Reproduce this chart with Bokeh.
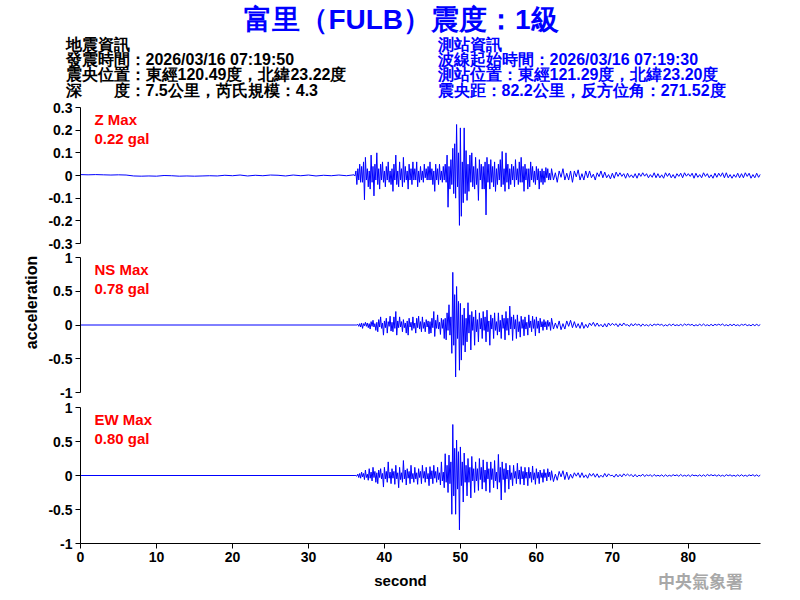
import numpy as np
from bokeh.plotting import figure
from bokeh.models import Range1d, FixedTicker, CustomJSTickFormatter, Label, ColumnDataSource
from bokeh.layouts import column, row
from bokeh.core.properties import value
from bokeh.embed import file_html
from bokeh.resources import INLINE

# ---------------- texts ----------------
TITLE = "富里（FULB）震度：1級"
EQ_INFO = ["地震資訊",
           "發震時間：2026/03/16 07:19:50",
           "震央位置：東經120.49度，北緯23.22度",
           "深\u3000\u3000度：7.5公里，芮氏規模：4.3"]
ST_INFO = ["測站資訊",
           "波線起始時間：2026/03/16 07:19:30",
           "測站位置：東經121.29度，北緯23.20度",
           "震央距：82.2公里，反方位角：271.52度"]
CHANNELS = ["Z", "NS", "EW"]
MAX_LABELS = ["0.22 gal", "0.78 gal", "0.80 gal"]
Y_LIMITS = [0.3, 1.0, 1.0]
Y_TICKS = [[-0.3, -0.2, -0.1, 0, 0.1, 0.2, 0.3],
           [-1, -0.5, 0, 0.5, 1],
           [-1, -0.5, 0, 0.5, 1]]
X_TICKS = [0, 10, 20, 30, 40, 50, 60, 70, 80]
X_END = 89.5
X_LABEL = "second"
Y_LABEL = "acceleration"
AGENCY = "中央氣象署"

# ---------------- data ----------------
# three sampling segments: pre-event (from 0 s), active part, coda/tail
PRE_START, PRE_STEP = 0.0, 1.0
ACT_START, ACT_STEP = 36.0, 0.125
TAIL_START, TAIL_STEP = 62.0, 0.25

z_pre = [0.004, 0.003, 0.004, 0.003, 0.002, 0.003, 0.002, -0.002, -0.003, -0.002,
         -0.003, 0.0, -0.001, -0.003, -0.002, -0.003, -0.002, -0.001, -0.002, 0.001,
         -0.001, 0.002, -0.002, 0.001, -0.001, 0.002, 0.001, -0.002, 0.002, -0.001,
         0.002, -0.002, 0.001, -0.001, 0.002, -0.001]
ns_pre = [0.0]
ew_pre = [0.0]

z_act = [
    0.003, -0.002, 0.02, -0.04, 0.03, -0.02, 0.05, -0.03,        # 36
    0.04, -0.03, 0.06, -0.107, 0.08, -0.02, 0.03, -0.05,         # 37
    0.02, -0.06, 0.09, -0.03, 0.04, -0.09, 0.05, -0.02,          # 38
    0.1, -0.04, 0.03, -0.06, 0.05, -0.02, 0.06, -0.03,           # 39
    0.02, -0.05, 0.04, -0.02, 0.06, -0.03, 0.02, -0.04,          # 40
    0.03, -0.07, 0.05, -0.02, 0.09, -0.04, 0.02, -0.05,          # 41
    0.06, -0.02, 0.03, -0.05, 0.08, -0.03, 0.04, -0.02,          # 42
    0.02, -0.06, 0.05, -0.02, 0.03, -0.04, 0.06, -0.02,          # 43
    0.03, -0.02, 0.06, -0.05, 0.02, -0.03, 0.04, -0.02,          # 44
    0.02, -0.03, 0.05, -0.01, 0.03, -0.02, 0.04, -0.02,          # 45
    0.06, -0.02, 0.03, -0.04, 0.02, -0.07, 0.05, -0.02,          # 46
    0.03, -0.04, 0.05, -0.02, 0.02, -0.03, 0.04, -0.02,          # 47
    0.05, -0.03, 0.09, -0.14, 0.04, -0.06, 0.07, -0.04,          # 48
    0.12, -0.08, 0.14, -0.1, 0.225, -0.05, 0.1, -0.22,           # 49
    0.21, -0.18, 0.06, -0.12, 0.21, -0.08, 0.11, -0.11,          # 50
    0.05, -0.07, 0.09, -0.03, 0.1, -0.05, 0.04, -0.06,           # 51
    0.08, -0.04, 0.03, -0.11, 0.07, -0.02, 0.05, -0.06,          # 52
    0.04, -0.06, 0.06, -0.174, 0.08, -0.03, 0.05, -0.06,         # 53
    0.07, -0.03, 0.04, -0.05, 0.06, -0.07, 0.03, -0.04,          # 54
    0.05, -0.02, 0.07, -0.05, 0.106, -0.04, 0.03, -0.07,         # 55
    0.1, -0.03, 0.05, -0.06, 0.03, -0.04, 0.05, -0.02,           # 56
    0.04, -0.05, 0.07, -0.02, 0.03, -0.04, 0.06, -0.03,          # 57
    0.08, -0.03, 0.04, -0.07, 0.05, -0.02, 0.03, -0.06,          # 58
    0.03, -0.05, 0.06, -0.02, 0.04, -0.03, 0.02, -0.04,          # 59
    0.04, -0.02, 0.03, -0.06, 0.02, -0.03, 0.03, -0.04,          # 60
    0.02, -0.03, 0.035, -0.01, 0.03, -0.02, 0.01, -0.02]         # 61

z_tail = [
    0.03, -0.02, 0.012, -0.03,
    0.02, -0.008, 0.03, -0.02,
    0.01, -0.02, 0.02, -0.03,
    0.02, -0.006, 0.025, -0.02,
    0.008, -0.02, 0.02, -0.01,
    0.02, -0.01, 0.006, -0.02,
    0.012, -0.005, 0.02, -0.01,
    0.015, -0.01, 0.004, -0.015,
    0.01, -0.012, 0.015, -0.004,
    0.012, -0.004, 0.008, -0.012,
    0.01, -0.008, 0.003, -0.01,
    0.008, -0.012, 0.01, -0.004,
    0.012, -0.003, 0.008, -0.01,
    0.004, -0.008, 0.012, -0.01,
    0.008, -0.01, 0.003, -0.012,
    0.012, -0.004, 0.01, -0.01,
    0.004, -0.012, 0.008, -0.004,
    0.01, -0.01, 0.012, -0.003,
    0.008, -0.004, 0.01, -0.012,
    0.01, -0.008, 0.004, -0.01,
    0.012, -0.004, 0.008, -0.01,
    0.003, -0.012, 0.01, -0.008,
    0.01, -0.004, 0.012, -0.01,
    0.012, -0.01, 0.004, -0.012,
    0.004, -0.008, 0.01, -0.01,
    0.008, -0.01, 0.012, -0.004,
    0.01, -0.012, 0.004, -0.01,
    0.01, -0.008, 0.006]

ns_act = [
    0.0, 0.0, 0.0, 0.0, 0.01, -0.02, 0.02, -0.03,                # 36
    0.03, -0.05, 0.02, -0.01, 0.04, -0.02, 0.03, -0.04,          # 37
    0.02, -0.06, 0.05, -0.02, 0.07, -0.03, 0.02, -0.08,          # 38
    0.04, -0.1, 0.08, -0.03, 0.12, -0.05, 0.03, -0.15,           # 39
    0.06, -0.04, 0.1, -0.12, 0.05, -0.02, 0.13, -0.09,           # 40
    0.04, -0.1, 0.12, -0.05, 0.2, -0.15, 0.06, -0.04,            # 41
    0.12, -0.03, 0.05, -0.1, 0.08, -0.04, 0.03, -0.12,           # 42
    0.06, -0.15, 0.1, -0.03, 0.04, -0.08, 0.12, -0.05,           # 43
    0.03, -0.12, 0.1, -0.04, 0.13, -0.06, 0.05, -0.1,            # 44
    0.12, -0.05, 0.04, -0.1, 0.08, -0.03, 0.06, -0.13,           # 45
    0.05, -0.12, 0.1, -0.04, 0.2, -0.17, 0.07, -0.05,            # 46
    0.15, -0.06, 0.04, -0.14, 0.1, -0.05, 0.08, -0.2,            # 47
    0.1, -0.22, 0.18, -0.08, 0.3, -0.15, 0.12, -0.42,            # 48
    0.78, -0.3, 0.45, -0.77, 0.57, -0.2, 0.35, -0.67,            # 49
    0.32, -0.52, 0.15, -0.3, 0.25, -0.4, 0.1, -0.25,             # 50
    0.33, -0.12, 0.15, -0.37, 0.2, -0.08, 0.12, -0.3,            # 51
    0.22, -0.1, 0.08, -0.25, 0.18, -0.06, 0.1, -0.2,             # 52
    0.2, -0.08, 0.12, -0.25, 0.22, -0.1, 0.06, -0.3,             # 53
    0.15, -0.06, 0.1, -0.2, 0.18, -0.08, 0.05, -0.15,            # 54
    0.18, -0.1, 0.07, -0.2, 0.15, -0.05, 0.1, -0.22,             # 55
    0.2, -0.08, 0.1, -0.15, 0.28, -0.06, 0.12, -0.23,            # 56
    0.15, -0.06, 0.08, -0.2, 0.15, -0.1, 0.05, -0.18,            # 57
    0.13, -0.05, 0.08, -0.16, 0.12, -0.06, 0.04, -0.15,          # 58
    0.15, -0.04, 0.06, -0.1, 0.13, -0.05, 0.08, -0.16,           # 59
    0.12, -0.05, 0.06, -0.12, 0.1, -0.03, 0.05, -0.08,           # 60
    0.08, -0.03, 0.05, -0.07, 0.07, -0.02, 0.04, -0.08]          # 61

ns_tail = [
    0.1, -0.06, 0.03, -0.05,
    0.06, -0.07, 0.02, -0.06,
    0.06, -0.02, 0.07, -0.04,
    0.05, -0.04, 0.02, -0.05,
    0.04, -0.05, 0.01, -0.04,
    0.03, -0.01, 0.04, -0.02,
    0.03, -0.02, 0.01, -0.03,
    0.02, -0.03, 0.03, -0.01,
    0.025, -0.005, 0.02, -0.025,
    0.02, -0.015, 0.03, -0.005,
    0.005, -0.02, 0.02, -0.015,
    0.02, -0.005, 0.015, -0.02,
    0.015, -0.01, 0.005, -0.015,
    0.01, -0.015, 0.015, -0.004,
    0.015, -0.004, 0.01, -0.015,
    0.004, -0.015, 0.015, -0.01,
    0.015, -0.01, 0.004, -0.01,
    0.01, -0.012, 0.015, -0.004,
    0.012, -0.004, 0.01, -0.015,
    0.004, -0.01, 0.012, -0.01,
    0.015, -0.01, 0.004, -0.012,
    0.01, -0.012, 0.01, -0.004,
    0.012, -0.004, 0.015, -0.01,
    0.004, -0.012, 0.01, -0.01,
    0.012, -0.01, 0.004, -0.012,
    0.01, -0.004, 0.012, -0.01,
    0.004, -0.012, 0.01, -0.01,
    0.01, -0.01, 0.008]

ew_act = [
    0.0, 0.0, 0.0, -0.01, 0.02, -0.03, 0.03, -0.04,              # 36
    0.05, -0.02, 0.03, -0.06, 0.08, -0.03, 0.02, -0.07,          # 37
    0.1, -0.04, 0.05, -0.08, 0.12, -0.03, 0.06, -0.1,            # 38
    0.04, -0.12, 0.08, -0.03, 0.1, -0.05, 0.03, -0.17,           # 39
    0.12, -0.05, 0.06, -0.1, 0.2, -0.04, 0.05, -0.12,            # 40
    0.1, -0.04, 0.06, -0.13, 0.15, -0.05, 0.04, -0.18,           # 41
    0.12, -0.06, 0.04, -0.1, 0.22, -0.05, 0.08, -0.14,           # 42
    0.1, -0.04, 0.06, -0.12, 0.15, -0.05, 0.03, -0.1,            # 43
    0.12, -0.05, 0.04, -0.13, 0.1, -0.03, 0.06, -0.12,           # 44
    0.15, -0.04, 0.06, -0.1, 0.12, -0.05, 0.03, -0.15,           # 45
    0.13, -0.05, 0.07, -0.12, 0.15, -0.04, 0.06, -0.1,           # 46
    0.12, -0.06, 0.04, -0.14, 0.2, -0.08, 0.05, -0.18,           # 47
    0.32, -0.1, 0.15, -0.25, 0.3, -0.12, 0.2, -0.57,             # 48
    0.75, -0.3, 0.4, -0.57, 0.52, -0.2, 0.35, -0.8,              # 49
    0.42, -0.15, 0.2, -0.39, 0.33, -0.1, 0.15, -0.3,             # 50
    0.25, -0.1, 0.12, -0.33, 0.28, -0.08, 0.1, -0.25,            # 51
    0.2, -0.08, 0.1, -0.22, 0.25, -0.06, 0.12, -0.2,             # 52
    0.23, -0.1, 0.08, -0.23, 0.2, -0.05, 0.1, -0.25,             # 53
    0.2, -0.06, 0.1, -0.18, 0.22, -0.08, 0.05, -0.2,             # 54
    0.31, -0.1, 0.12, -0.36, 0.2, -0.06, 0.1, -0.25,             # 55
    0.18, -0.05, 0.08, -0.2, 0.15, -0.06, 0.04, -0.15,           # 56
    0.15, -0.04, 0.06, -0.12, 0.18, -0.05, 0.08, -0.13,          # 57
    0.13, -0.05, 0.06, -0.14, 0.12, -0.04, 0.05, -0.15,          # 58
    0.12, -0.04, 0.05, -0.1, 0.14, -0.06, 0.04, -0.13,           # 59
    0.1, -0.04, 0.05, -0.12, 0.08, -0.03, 0.04, -0.1,            # 60
    0.09, -0.03, 0.04, -0.08, 0.1, -0.02, 0.05, -0.07]           # 61

ew_tail = [
    0.07, -0.09, 0.02, -0.07,
    0.06, -0.02, 0.07, -0.06,
    0.05, -0.06, 0.02, -0.04,
    0.04, -0.01, 0.04, -0.03,
    0.04, -0.03, 0.01, -0.04,
    0.03, -0.01, 0.03, -0.025,
    0.025, -0.03, 0.005, -0.025,
    0.03, -0.02, 0.025, -0.005,
    0.005, -0.025, 0.02, -0.02,
    0.015, -0.02, 0.025, -0.005,
    0.02, -0.005, 0.015, -0.02,
    0.015, -0.02, 0.005, -0.01,
    0.02, -0.015, 0.01, -0.004,
    0.01, -0.015, 0.015, -0.01,
    0.004, -0.01, 0.01, -0.015,
    0.01, -0.012, 0.004, -0.01,
    0.012, -0.004, 0.01, -0.012,
    0.015, -0.01, 0.004, -0.01,
    0.01, -0.015, 0.012, -0.004,
    0.004, -0.01, 0.01, -0.012,
    0.01, -0.012, 0.015, -0.004,
    0.012, -0.004, 0.01, -0.01,
    0.01, -0.01, 0.004, -0.012,
    0.012, -0.004, 0.01, -0.01,
    0.004, -0.012, 0.01, -0.01,
    0.012, -0.01, 0.004, -0.012,
    0.01, -0.004, 0.012, -0.01,
    0.01, -0.012, 0.008]

PRE = [z_pre, ns_pre, ew_pre]
ACT = [z_act, ns_act, ew_act]
TAIL = [z_tail, ns_tail, ew_tail]

# ---------------- styles ----------------
FONT = "Liberation Sans"
CJK_FONT = "Noto Sans CJK TC"
WAVE_COLOR = "#0000ff"
INFO_BLUE = "#0000ff"
RED = "#ff0000"
W_PANEL = 756
LEFT_W = 40


def text_fig(width, height, x0, x1, y_bottom, y_top, **kw):
    f = figure(width=width, height=height, x_range=Range1d(x0, x1),
               y_range=Range1d(y_bottom, y_top), output_backend="svg",
               toolbar_location=None, x_axis_location=None, y_axis_location=None,
               **kw)
    f.grid.visible = False
    f.outline_line_color = None
    f.background_fill_color = "white"
    f.border_fill_color = "white"
    return f


# header (coordinates equal page pixels)
hdr = text_fig(LEFT_W + W_PANEL, 100, 0, LEFT_W + W_PANEL, 100, 0, min_border=0)
hdr.text(x=[401], y=[19], text=[TITLE], text_font=value(FONT),
         text_font_size="28px", text_font_style="bold", text_color=INFO_BLUE,
         text_align="center", text_baseline="middle")
ROW_Y = [43.5, 58.5, 74, 89.5]
hdr.text(x=[65] * 4, y=ROW_Y, text=EQ_INFO, text_font=value(FONT),
         text_font_size="16px", text_font_style="bold", text_color="black",
         text_align="left", text_baseline="middle")
hdr.text(x=[437] * 4, y=ROW_Y, text=ST_INFO, text_font=value(FONT),
         text_font_size="16px", text_font_style="bold", text_color=INFO_BLUE,
         text_align="left", text_baseline="middle")

# y label column (page y 100 .. 598)
lab = text_fig(LEFT_W, 498, 0, LEFT_W, 598, 100, min_border=0)
lab.text(x=[31], y=[302], text=[Y_LABEL], angle=np.pi / 2, text_font=value(FONT),
         text_font_size="16px", text_font_style="bold", text_color="black",
         text_align="center", text_baseline="middle")

# footer (frame spans page x 80 .. 760, page y 568 .. 598)
ftr = text_fig(W_PANEL, 30, 80, 760, 598, 568, min_border_left=40,
               min_border_right=36, min_border_top=0, min_border_bottom=0)
ftr.text(x=[400], y=[580], text=[X_LABEL], text_font=value(FONT),
         text_font_size="15px", text_font_style="bold", text_color="black",
         text_align="center", text_baseline="middle")
ftr.text(x=[700], y=[580], text=[AGENCY], text_font=value(CJK_FONT),
         text_font_size="17px", text_font_style="bold", text_color="#a8a8a8",
         text_align="center", text_baseline="middle")

HEIGHTS = [150, 150, 168]
TOPS = [7, 7, 7]
BOTTOMS = [7, 8, 25]

panels = []
for i, ch in enumerate(CHANNELS):
    last = (i == len(CHANNELS) - 1)
    p = figure(width=W_PANEL, height=HEIGHTS[i], x_range=Range1d(0, X_END),
               y_range=Range1d(-Y_LIMITS[i], Y_LIMITS[i]), output_backend="svg",
               toolbar_location=None, min_border_left=40, min_border_right=36,
               min_border_top=TOPS[i], min_border_bottom=BOTTOMS[i],
               x_axis_location="below" if last else None)
    p.grid.visible = False
    p.outline_line_color = None
    p.background_fill_color = "white"
    p.border_fill_color = "white"

    axes = list(p.yaxis) + (list(p.xaxis) if last else [])
    for ax in axes:
        ax.axis_line_color = "black"
        ax.axis_line_width = 1
        ax.major_tick_line_color = "black"
        ax.major_tick_out = 5
        ax.major_tick_in = 0
        ax.minor_tick_out = 0
        ax.minor_tick_in = 0
        ax.minor_tick_line_color = None
        ax.major_label_text_font = FONT
        ax.major_label_text_font_size = "14px"
        ax.major_label_text_font_style = "bold"
        ax.major_label_text_color = "black"
        ax.major_label_standoff = 3
    p.yaxis.ticker = FixedTicker(ticks=Y_TICKS[i])
    p.yaxis.formatter = CustomJSTickFormatter(code="return String(tick)")
    if last:
        p.xaxis.ticker = FixedTicker(ticks=X_TICKS)

    segs = [(PRE_START, PRE_STEP, PRE[i]), (ACT_START, ACT_STEP, ACT[i]),
            (TAIL_START, TAIL_STEP, TAIL[i])]
    t = np.concatenate([s0 + np.arange(len(vals)) * ds for s0, ds, vals in segs])
    v = np.concatenate([np.asarray(vals, dtype=float) for _, _, vals in segs])
    src = ColumnDataSource(dict(t=t, v=v))
    p.line("t", "v", source=src, line_color=WAVE_COLOR, line_width=1)

    for txt, yoff in ((f"{ch} Max", -3), (MAX_LABELS[i], -22)):
        p.add_layout(Label(x=0, y=Y_LIMITS[i], x_offset=14, y_offset=yoff, text=txt,
                           text_color=RED, text_font=FONT, text_font_size="15px",
                           text_font_style="bold", text_align="left",
                           text_baseline="top"))
    panels.append(p)

layout = column(hdr, row(lab, column(*panels, ftr)))
open("out.html", "w").write(file_html(layout, INLINE))
